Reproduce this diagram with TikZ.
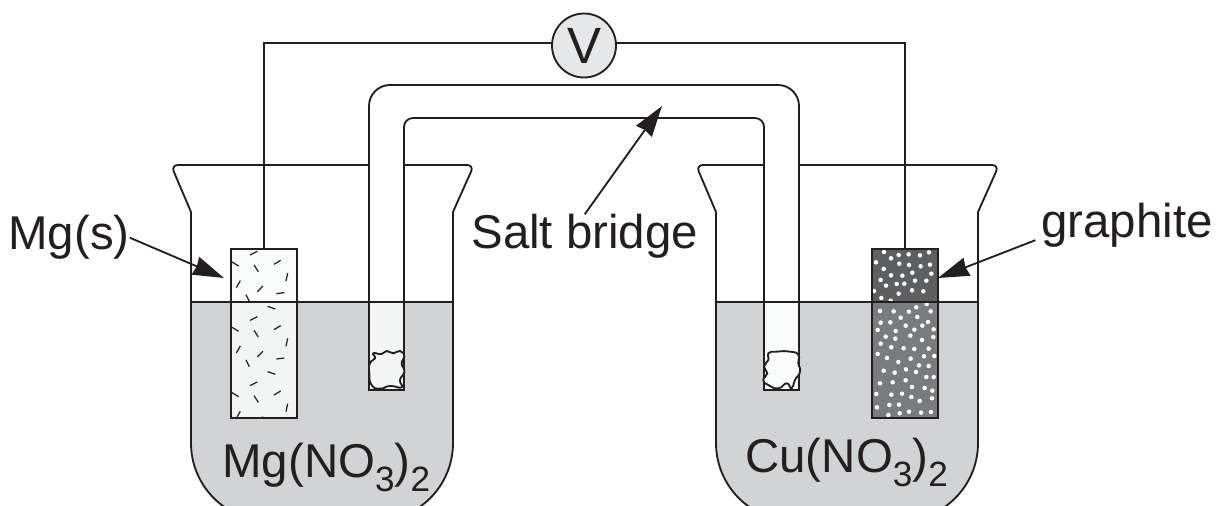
\documentclass[tikz,border=0pt]{standalone}
\usepackage{fontspec}
\setmainfont{Liberation Sans}
\usetikzlibrary{arrows.meta}
\definecolor{ink}{HTML}{231F20}
\definecolor{liquid}{HTML}{D1D3D4}
\definecolor{pale}{HTML}{F3F5F4}
\definecolor{meter}{HTML}{E6E7E8}
\definecolor{graphtop}{HTML}{5E5F61}
\definecolor{graphlow}{HTML}{7A7B7D}
\newcommand{\lowsub}[1]{\raisebox{-.3em}{\fontsize{20}{20}\selectfont #1}}
\tikzset{
  line/.style={draw=ink,line width=1.05pt},
  rodbox/.style={minimum width=1.32cm,minimum height=3.38cm,inner sep=0pt},
  lab/.style={text=ink,inner sep=0pt,font=\fontsize{27}{30}\selectfont},
  pointer/.style={line,-{Stealth[length=.62cm,width=.38cm,inset=.03cm]}},
  crop/.style={shift={#1},x=.006667cm,y=-.006667cm}
}
\begin{document}
\begin{tikzpicture}[x=.02cm,y=-.02cm]
  \clip (0,0) rectangle (1219,506);
  % beakers
  \foreach\bx in {0,525} {
    \begin{scope}[shift={(\bx,0)}]
      \fill[liquid] (191,302) [rounded corners=1.56cm] -- (191,521) -- (453,521) [sharp corners] -- (453,302) -- cycle;
      \draw[line,rounded corners=1.56cm] (191,212) -- (191,521) -- (453,521) -- (453,212);
      \draw[line,rounded corners=.14cm] (191,212) -- (171,165) -- (474,165) -- (453,212);
    \end{scope}
  }
  % salt bridge
  \draw[line,fill=white] (404,390) -- (369,390) [rounded corners=.42cm] -- (369,85) -- (799,85) [sharp corners] -- (799,390) -- (764,390) [rounded corners=.18cm] -- (764,118) -- (404,118) [sharp corners] -- cycle;
  \draw[line,fill=pale] (369,302) rectangle (404,390);
  \draw[line,fill=pale!40!white] (764,302) rectangle (799,390);
  % liquid level
  \draw[line] (191,302) -- (453,302);
  \draw[line] (716,302) -- (978,302);
  % plugs
  \begin{scope}[crop={(160,150)}]
    \draw[line,fill=pale] plot[smooth cycle,tension=1] coordinates {(640,610) (665,612) (680,603) (700,610) (720,603) (733,620) (725,640) (733,665) (720,690) (725,712) (690,708) (660,716) (635,705) (628,670) (630,640) (645,625)};
  \end{scope}
  \begin{scope}[crop={(690,150)}]
    \draw[line,fill=pale!40!white] plot[smooth cycle,tension=1] coordinates {(235,610) (260,605) (300,605) (325,615) (325,640) (330,665) (315,690) (305,715) (290,700) (265,715) (235,705) (220,690) (232,670) (222,650) (235,630)};
  \end{scope}
  % electrodes
  \node[rodbox] (mgrod) at (264,333.5) {};
  \node[rodbox] (grrod) at (905,333.5) {};
  \fill[pale!40!white] (mgrod.north west) rectangle (297,302);
  \fill[pale] (231,302) rectangle (mgrod.south east);
  \fill[graphtop] (grrod.north west) rectangle (938,302);
  \fill[graphlow] (872,302) rectangle (grrod.south east);
  \begin{scope}
    \clip (mgrod.north west) rectangle (mgrod.south east);
    \begin{scope}[crop={(160,150)}]
      \foreach\o in {0,196,392}
        \foreach\a/\b/\c/\d in {270/315/292/304,216/336/236/348,342/343/362/331,282/345/295/365,378/393/383/369,229/413/241/392,292/425/309/408,349/431/373/428,258/434/268/454,323/469/346/477}
          \draw[ink,line width=.7pt] ({\a},{\b+\o}) -- ({\c},{\d+\o});
    \end{scope}
  \end{scope}
  \begin{scope}
    \clip (grrod.north west) rectangle (grrod.south east);
    \begin{scope}[crop={(690,150)}]
      \foreach\a/\b in {582/306,603/325,626/315,656/313,690/316,717/307,558/337,628/341,657/345,692/349,720/344,581/357,667/368,724/371,603/376,637/377,572/390,675/392,709/392,588/407,620/402,643/401,666/421,700/424,552/423,626/431,574/444,602/452,
        570/483,611/484,657/485,679/472,722/484,710/462,632/503,682/501,572/518,601/517,647/527,697/527,714/516,563/540,617/543,673/539,731/538,587/560,661/557,616/566,696/570,730/561,572/581,604/592,641/595,673/597,716/596,563/612,591/624,662/626,702/619,733/618,625/636,687/646,716/648,581/662,614/668,648/658,678/666,709/681,731/681,570/700,608/697,647/691,666/711,704/714,727/722,559/732,604/734,636/731,664/741,689/753,726/745,561/772,598/765,627/764,657/785,693/788,723/786,629/790,595/795}
        \fill[white] (\a,\b) circle (.045cm);
    \end{scope}
  \end{scope}
  \draw[line] (mgrod.north west) rectangle (mgrod.south east);
  \draw[line] (grrod.north west) rectangle (grrod.south east);
  \draw[line] (mgrod.west |- 0,302) -- (mgrod.east |- 0,302);
  \draw[line] (grrod.west |- 0,302) -- (grrod.east |- 0,302);
  % voltmeter and wires
  \node[line,circle,fill=meter,minimum size=1.28cm,inner sep=0pt,lab,font=\fontsize{29}{30}\selectfont] (volt) at (584,45.5) {V};
  \draw[line] (mgrod.north) |- (volt.175);
  \draw[line] (grrod.north) |- (volt.5);
  % labels
  \node[lab,anchor=base west] (mglab) at (8,250) {Mg(s)};
  \node[lab,anchor=base west] (saltlab) at (471,249) {Salt bridge};
  \node[lab,anchor=base west] (grlab) at (1041,238) {graphite};
  \node[lab,anchor=base west] (mgsol) at (222,477) {Mg(NO\lowsub{3})\lowsub{2}};
  \node[lab,anchor=base west] (cusol) at (745,472) {Cu(NO\lowsub{3})\lowsub{2}};
  % pointers
  \coordinate (mgtip) at (224,278);
  \coordinate (bridgetip) at (662,106);
  \coordinate (grtip) at (938,278);
  \draw[pointer] (mglab.east) -- (mgtip);
  \draw[pointer] (saltlab.north) -- (bridgetip);
  \draw[pointer,shorten <=.12cm] (grlab.base west) -- (grtip);
\end{tikzpicture}
\end{document}
